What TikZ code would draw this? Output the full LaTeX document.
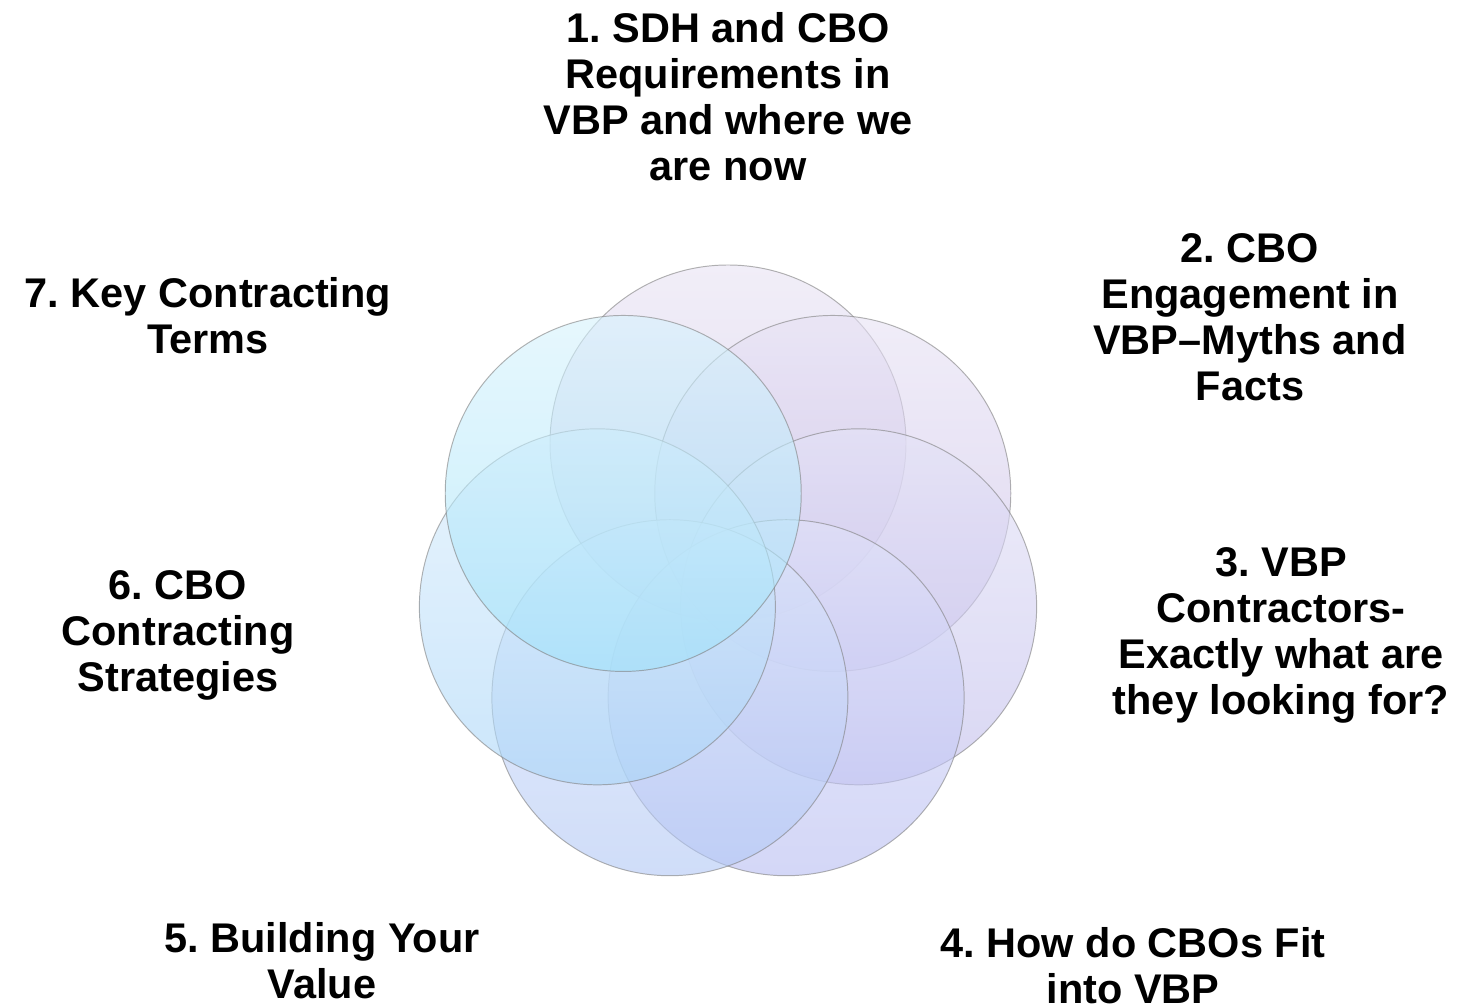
\documentclass[tikz,border=0pt]{standalone}
\usepackage{fontspec}
\setmainfont{Liberation Sans}
\frenchspacing
\definecolor{ringA}{HTML}{B8A8DC}
\definecolor{ringB}{HTML}{B4A4DE}
\definecolor{ringC}{HTML}{ABA6E6}
\definecolor{ringD}{HTML}{9FA6EE}
\definecolor{ringE}{HTML}{96B4F2}
\definecolor{ringF}{HTML}{8CC8F6}
\definecolor{ringG}{HTML}{80D8F8}
\begin{document}
\begin{tikzpicture}[
  bubble/.style={circle,minimum size=7.12cm,inner sep=0pt,
    shade,top color=#1!32,bottom color=#1!75,fill opacity=0.6,
    draw=black!50,draw opacity=0.6,line width=0.55pt},
  topic/.style={align=center,inner sep=0pt,
    font=\fontsize{23.6}{26.2}\selectfont\bfseries}
]
\useasboundingbox[fill=white] (0,0) rectangle (29.22,20.12);

% Ring of seven circles
\begin{scope}[shift={(14.56,8.58)}]
\foreach \i/\ang/\col in {1/90/ringA,2/38.57/ringB,3/-12.86/ringC,4/-64.29/ringD,
                          5/-115.71/ringE,6/-167.14/ringF,7/141.43/ringG}
  \node[bubble=\col] (c\i) at (\ang:2.68) {};
\end{scope}

% Topics
\node[topic] (t1) at (14.56,18.19) {1. SDH and CBO\\Requirements in\\VBP and where we\\are now};
\node[topic] (t2) at (25.0,13.78) {2. CBO\\Engagement in\\VBP--Myths and\\Facts};
\node[topic] (t3) at (25.62,7.42) {3. VBP\\Contractors-\\Exactly what are\\they looking for?};
\node[topic] (t4) at (22.66,0.8) {4. How do CBOs Fit\\into VBP};
\node[topic] (t5) at (6.44,0.9) {5. Building Your\\Value};
\node[topic] (t6) at (3.56,7.42) {6. CBO\\Contracting\\Strategies};
\node[topic] (t7) at (4.16,13.8) {7. Key Contracting\\Terms};

\end{tikzpicture}
\end{document}
